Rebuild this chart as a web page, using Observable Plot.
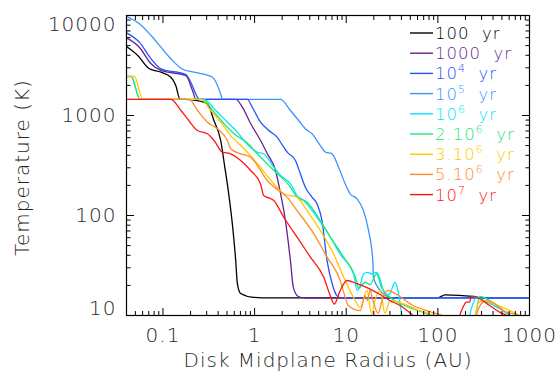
<!DOCTYPE html>
<html><head><meta charset="utf-8">
<script src="https://cdn.jsdelivr.net/npm/d3@7"></script>
<script src="https://cdn.jsdelivr.net/npm/@observablehq/plot@0.6"></script>
<style>
html,body{margin:0;padding:0;background:#fff;}
#chart svg{display:block;}
#chart svg text{letter-spacing:1px;}
</style></head>
<body><div id="chart"></div>
<script>
// ---- data: [disk midplane radius (AU), temperature (K)] ----
const yr100 = [[0.04,4900],[0.0531,3980],[0.071,2930],[0.0951,2710],[0.122,2415],[0.138,2000],[0.153,1460],[0.2,1440],[0.306,1310],[0.358,900],[0.427,560],[0.47,316],[0.521,166],[0.577,76],[0.622,35.5],[0.648,21],[0.705,16.6],[0.975,15.2],[1.5,15],[100,15],[119,16.1],[240,15.5],[300,15],[1000,15]];
const yr1000 = [[0.04,5980],[0.0553,4820],[0.0741,3290],[0.0951,2820],[0.178,2510],[0.21,1780],[0.229,1450],[0.622,1450],[0.735,1210],[0.905,832],[1.162,562],[1.374,417],[1.69,282],[1.92,166],[2.17,89],[2.46,35.5],[2.65,19],[3.0,15.5],[3.5,15],[1000,15]];
const yr1e4 = [[0.04,6710],[0.0553,5410],[0.0741,3690],[0.0951,2930],[0.178,2570],[0.201,2150],[0.238,1520],[0.248,1450],[0.833,1450],[0.944,1210],[1.162,857],[1.43,708],[1.76,607],[2.08,482],[2.27,430],[2.79,355],[3.16,261],[3.58,192],[4.24,152],[4.8,131],[5.44,89],[6.17,35.5],[7.0,21],[7.9,15.8],[8.8,15],[1000,15]];
const yr1e5 = [[0.04,9800],[0.0553,8260],[0.0741,6310],[0.0951,4820],[0.122,3690],[0.164,2900],[0.219,2710],[0.347,2415],[0.43,1600],[0.445,1450],[1.92,1450],[2.46,1122],[3.03,891],[3.58,736],[4.24,656],[5.21,501],[5.91,430],[7.0,414],[8.25,304],[9.75,207],[11.0,165],[13.1,147],[15.4,112],[17.5,71],[19.5,35.5],[19.8,24],[23.4,17.8],[30,15.2],[35,15],[1000,15]];
const yr1e6 = [[0.04,2455],[0.0449,2455],[0.0562,1450],[0.281,1450],[0.377,1122],[0.505,857],[0.649,681],[0.765,562],[1.07,430],[1.26,414],[1.62,304],[1.92,251],[2.46,207],[2.91,158],[3.44,141],[4.8,96],[6.7,61],[8.6,41],[12.0,26],[13.2,17.8],[14.2,20],[15.4,26],[17.0,27],[19.0,26],[21.5,27],[23.4,23],[25.4,17.8],[27.7,15.8],[30.0,16.6],[34.1,21.5],[37.0,17],[40.3,10.4],[43.9,7],[100,3],[200,4],[223,10],[240,13],[272,15.2],[300,14.5],[450,12],[650,9.5],[800,7]];
const yr2e6 = [[0.04,2455],[0.0449,2455],[0.0562,1450],[0.27,1450],[0.361,1079],[0.464,826],[0.596,656],[0.833,531],[1.07,414],[1.62,282],[2.46,192],[2.91,152],[3.74,136],[5.21,89],[6.7,61],[9.35,38.4],[13.1,21.4],[13.6,18.6],[16.1,21.5],[18.2,20.4],[21.5,26],[24,19.5],[27.2,16.5],[34,14],[49.4,12],[82,10],[119,8],[200,4],[263,11.2],[286,15.5],[367,14.1],[517,11.2],[605,10],[780,8]];
const yr3e6 = [[0.04,2455],[0.0488,2455],[0.0601,1450],[0.259,1450],[0.333,1122],[0.427,857],[0.548,630],[0.765,468],[1.07,331],[1.62,208],[2.08,165],[2.91,152],[3.74,112],[5.21,71],[7.3,41],[9.35,24.3],[12.0,15.2],[14.2,12.1],[16.8,17.8],[19.0,10.4],[20.6,14.1],[23.4,17.8],[26.5,10.5],[30,14.1],[63.6,11.2],[88,10],[134,7],[200,4],[250,8],[272,13.2],[310,14.1],[450,12.6],[710,10.4],[870,9.3]];
const yr5e6 = [[0.04,1450],[0.193,1450],[0.238,1122],[0.306,857],[0.393,736],[0.505,562],[0.548,465],[0.705,414],[0.905,383],[1.162,282],[1.374,224],[1.62,194],[2.27,152],[2.91,112],[4.42,66],[6.17,38.4],[8.6,22.4],[9.75,15.2],[10.5,12.6],[14.2,11.2],[16.1,15.8],[17.0,14.1],[18.2,17.8],[19.6,14.1],[22.2,10.5],[25.2,15.2],[28.6,17.8],[34.1,16.6],[53.5,12.6],[88,10.7],[125,9.5],[173,7],[240,5],[263,10],[311,13.6],[350,14.1],[559,10.8],[780,10],[1000,8.5]];
const yr1e7 = [[0.04,1450],[0.122,1450],[0.157,1122],[0.185,927],[0.238,708],[0.306,656],[0.361,562],[0.446,430],[0.548,414],[0.705,355],[0.905,282],[1.162,207],[1.26,158],[1.374,152],[1.62,141],[2.08,96],[2.91,60.7],[4.06,38.4],[5.66,24.3],[6.7,15.8],[7.4,13],[8.6,17.8],[10.2,22.4],[13.1,20.8],[16.8,19],[23.4,16.2],[30,14.1],[38.6,12.6],[53.9,10],[72,7.9],[134,3.5],[173,10],[188,12.1],[205,13.6],[222,13.6],[232,15.5],[252,15.5],[286,14.7],[367,12.6],[471,10.8],[559,10],[686,8]];

const seriesData = [yr100, yr1000, yr1e4, yr1e5, yr1e6, yr2e6, yr3e6, yr5e6, yr1e7];
const legendLabels = ["100  yr", "1000  yr", "10^4  yr", "10^5  yr", "10^6  yr", "2.10^6  yr", "3.10^6  yr", "5.10^6  yr", "10^7  yr"];
const seriesColors = ["#000000", "#6c1f8e", "#2452ff", "#3b94ff", "#00e6ff", "#22e67a", "#ffc800", "#ff8c28", "#ff1414"];
const drawOrder = [0, 1, 3, 2, 4, 5, 6, 7, 8];

const xMajorTicks = [0.1, 1, 10, 100, 1000];
const xTickLabels = ["0.1", "1", "10", "100", "1000"];
const xMinorTicks = [0.05,0.06,0.07,0.08,0.09,0.2,0.3,0.4,0.5,0.6,0.7,0.8,0.9,2,3,4,5,6,7,8,9,20,30,40,50,60,70,80,90,200,300,400,500,600,700,800,900];
const yMajorTicks = [10, 100, 1000, 10000];
const yTickLabels = ["10", "100", "1000", "10000"];
const yMinorTicks = [20,30,40,50,60,70,80,90,200,300,400,500,600,700,800,900,2000,3000,4000,5000,6000,7000,8000,9000];

const FONT = "DejaVu Sans, sans-serif";
const INK = "#262626";
const blank = () => "";

const lineMarks = drawOrder.map(i => Plot.line(seriesData[i], {
  x: d => d[0], y: d => d[1], stroke: seriesColors[i], strokeWidth: 1.3, clip: true, curve: "monotone-x"
}));

const axisTicks = [];
for (const anchor of ["bottom", "top"]) {
  axisTicks.push(Plot.axisX(xMajorTicks, {anchor, tickSize: -7, tickFormat: blank, label: null, stroke: "#000"}));
  axisTicks.push(Plot.axisX(xMinorTicks, {anchor, tickSize: -4, tickFormat: blank, label: null, stroke: "#000"}));
}
for (const anchor of ["left", "right"]) {
  axisTicks.push(Plot.axisY(yMajorTicks, {anchor, tickSize: -8, tickFormat: blank, label: null, stroke: "#000"}));
  axisTicks.push(Plot.axisY(yMinorTicks, {anchor, tickSize: -4.5, tickFormat: blank, label: null, stroke: "#000"}));
}

const txt = {fontFamily: FONT, fontSize: 20, fill: INK, fontWeight: 200};

const plot = Plot.plot({
  width: 559,
  height: 378,
  marginLeft: 126,
  marginRight: 30,
  marginTop: 15,
  marginBottom: 63,
  style: {background: "#fff", fontFamily: FONT},
  x: {type: "log", domain: [0.04, 1000], label: null},
  y: {type: "log", domain: [10, 10000], label: null},
  marks: [
    ...lineMarks,
    Plot.frame({stroke: "#000", strokeWidth: 1.2}),
    ...axisTicks,
    Plot.text(xMajorTicks, {x: d => d, text: (d, i) => xTickLabels[i], frameAnchor: "bottom", dy: 26, textAnchor: "middle", ...txt}),
    Plot.text(yMajorTicks.slice(1, 3), {y: d => d, text: (d, i) => yTickLabels[i + 1], frameAnchor: "left", dx: -10, textAnchor: "end", ...txt}),
    Plot.text(yMajorTicks.slice(3), {y: d => d, text: () => yTickLabels[3], frameAnchor: "left", dx: -10, dy: 9.5, textAnchor: "end", ...txt}),
    Plot.text(yMajorTicks.slice(0, 1), {y: d => d, text: () => yTickLabels[0], frameAnchor: "left", dx: -10, dy: -7, textAnchor: "end", ...txt}),
    Plot.text(["Disk Midplane Radius (AU)"], {text: d => d, frameAnchor: "bottom", dy: 51, textAnchor: "middle", ...txt}),
    Plot.text(["Temperature (K)"], {text: d => d, frameAnchor: "left", dx: -104, dy: 2, rotate: -90, textAnchor: "middle", ...txt})
  ]
});

// legend inside the plot area (top right)
const svg = d3.select(plot);
const lg = svg.append("g").attr("font-family", FONT).attr("font-size", 16.5).attr("font-weight", 200).attr("text-anchor", "start");
legendLabels.forEach((lab, i) => {
  const y = 33 + i * 20.2;
  lg.append("line").attr("x1", 410).attr("x2", 433).attr("y1", y).attr("y2", y)
    .attr("stroke", seriesColors[i]).attr("stroke-width", 1.4);
  const t = lg.append("text").attr("x", 435).attr("y", y + 6).attr("fill", seriesColors[i]).attr("text-anchor", "start");
  const m = lab.match(/^([^\^]*)\^(\d+)(.*)$/);
  if (m) {
    t.append("tspan").text(m[1]);
    t.append("tspan").attr("font-size", 11).attr("dy", -7).text(m[2]);
    t.append("tspan").attr("dy", 7).text(m[3].replace(/ /g, "\u00a0"));
  } else {
    t.text(lab.replace(/ /g, "\u00a0"));
  }
});

document.getElementById("chart").appendChild(plot);
</script>
</body></html>
